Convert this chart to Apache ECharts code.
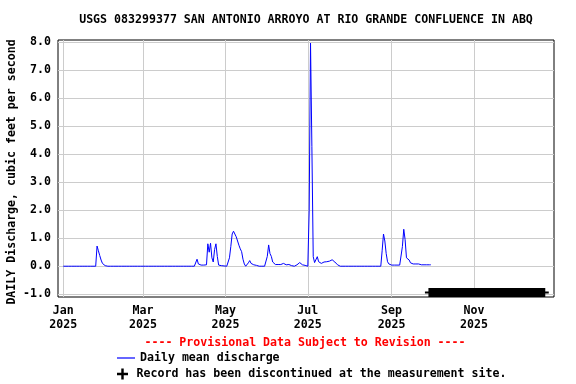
<!DOCTYPE html>
<html><head><meta charset="utf-8">
<script src="https://cdn.jsdelivr.net/npm/echarts@6/dist/echarts.min.js"></script>
<style>html,body{margin:0;padding:0;background:#fff}#c{width:576px;height:384px}</style>
</head><body><div id="c"></div>
<script>
const titleText = 'USGS 083299377 SAN ANTONIO ARROYO AT RIO GRANDE CONFLUENCE IN ABQ';
const yAxisTitle = 'DAILY Discharge, cubic feet per second';
const provisionalNote = '---- Provisional Data Subject to Revision ----';
const seriesNames = ['Daily mean discharge', 'Record has been discontinued at the measurement site.'];
const firstDay = '2025-01-01';
// daily mean discharge, one value per day starting at firstDay
const dailyMean = [
  // Jan
  0,0,0,0,0,0,0,0,0,0,0,0,0,0,0,0,0,0,0,0,0,0,0,0,0,0.72,0.55,0.38,0.22,0.1,0.04,
  // Feb
  0.02,0,0,0,0,0,0,0,0,0,0,0,0,0,0,0,0,0,0,0,0,0,0,0,0,0,0,0,
  // Mar
  0,0,0,0,0,0,0,0,0,0,0,0,0,0,0,0,0,0,0,0,0,0,0,0,0,0,0,0,0,0,0,
  // Apr
  0,0,0,0,0,0,0,0,0.02,0.25,0.08,0.05,0.04,0.04,0.04,0.04,0.05,0.8,0.5,0.82,0.3,0.15,0.6,0.8,0.35,0.04,0.02,0.02,0.01,0.01,
  // May
  0,0,0.05,0.3,0.7,1.15,1.25,1.27,1.05,0.9,0.75,0.62,0.52,0.25,0.08,0,0.03,0.12,0.2,0.1,0.06,0.05,0.04,0.03,0.02,0,0,0,0,0,0,
  // Jun
  0.35,0.76,0.45,0.35,0.15,0.08,0.06,0.06,0.06,0.05,0.06,0.06,0.1,0.12,0.05,0.08,0.06,0.05,0.02,0,0,0,0.05,0.1,0.13,0.06,0.05,0.04,0.03,0.02,
  // Jul
  0,2.0,7.97,4.27,0.34,0.13,0.2,0.34,0.16,0.09,0.1,0.12,0.15,0.18,0.16,0.16,0.18,0.2,0.23,0.2,0.15,0.1,0.05,0.02,0,0,0,0,0,0,0,
  // Aug
  0,0,0,0,0,0,0,0,0,0,0,0,0,0,0,0,0,0,0,0,0,0,0,0,0.55,1.15,0.9,0.45,0.16,0.08,0.05,
  // Sep
  0.04,0.04,0.04,0.04,0.04,0.04,0.04,0.04,0.7,1.32,0.95,0.3,0.28,0.22,0.12,0.08,0.08,0.08,0.08,0.08,0.08,0.05,0.05,0.05,0.05,0.05,0.05,0.05,0.05,0.05
];
const discontinuedDates = ['2025-09-29', '2025-12-23'];
const discontinuedLevel = -0.94;
const xTickDates = ['2025-01-01','2025-03-01','2025-05-01','2025-07-01','2025-09-01','2025-11-01'];
const yTicks = [-1,0,1,2,3,4,5,6,7,8];
const monthNames = ['Jan','Feb','Mar','Apr','May','Jun','Jul','Aug','Sep','Oct','Nov','Dec'];

const DAY = 86400000;
const t0 = Date.parse(firstDay);
const lineData = dailyMean.map((v, i) => [t0 + i * DAY, v]);
const discData = discontinuedDates.map(d => [Date.parse(d), discontinuedLevel]);
const xTicks = xTickDates.map(d => Date.parse(d));

const FONT = 'DejaVu Sans Mono';
const FS = 11.6;
const CSSFONT = 'bold ' + FS + 'px "' + FONT + '"';
const plusPath = 'path://M3.5,0h2v3.5h3.5v2h-3.5v3.5h-2v-3.5h-3.5v-2h3.5z';
const legendText = {fontFamily: FONT, fontSize: FS, fontWeight: 'bold', color: '#000'};

const chart = echarts.init(document.getElementById('c'), null, {renderer: 'canvas'});
chart.setOption({
  animation: false,
  backgroundColor: '#ffffff',
  grid: {left: 58, right: 22, top: 40, bottom: 87, show: true, borderColor: '#000', borderWidth: 1, backgroundColor: '#fff'},
  xAxis: {
    type: 'value',
    min: t0 - 3.9 * DAY, max: t0 + 363.2 * DAY,
    axisLine: {show: false},
    axisTick: {show: false, customValues: xTicks},
    splitLine: {show: true, lineStyle: {color: '#cccccc', width: 1}},
    axisLabel: {
      customValues: xTicks, margin: 7, lineHeight: 14,
      fontFamily: FONT, fontSize: FS, fontWeight: 'bold', color: '#000',
      formatter: v => { const d = new Date(v); return monthNames[d.getUTCMonth()] + '\n' + d.getUTCFullYear(); }
    }
  },
  yAxis: {
    type: 'value', min: -1.1, max: 8.08,
    axisLine: {show: false},
    axisTick: {show: false, customValues: yTicks},
    splitLine: {show: true, lineStyle: {color: '#cccccc', width: 1}},
    axisLabel: {
      customValues: yTicks, margin: 7,
      fontFamily: FONT, fontSize: FS, fontWeight: 'bold', color: '#000',
      formatter: v => v.toFixed(1)
    }
  },
  legend: [
    {
      left: 112, top: 347, itemWidth: 18, itemHeight: 1.2, selectedMode: false,
      textStyle: legendText,
      data: [{name: seriesNames[0], icon: 'rect', itemStyle: {color: '#0000ff', borderWidth: 0}}]
    },
    {
      left: 112, top: 363, itemWidth: 18, itemHeight: 11, selectedMode: false,
      textStyle: legendText,
      data: [{name: seriesNames[1], icon: plusPath, itemStyle: {color: '#000', borderWidth: 0}}]
    }
  ],
  graphic: [
    {type: 'text', x: 306, y: 20, style: {text: titleText, fill: '#000', align: 'center', verticalAlign: 'middle', font: CSSFONT}},
    {type: 'text', x: 305, y: 343, style: {text: provisionalNote, fill: '#ff0000', align: 'center', verticalAlign: 'middle', font: CSSFONT}},
    {type: 'text', x: 12, y: 172, rotation: Math.PI / 2,
     style: {text: yAxisTitle, fill: '#000', align: 'center', verticalAlign: 'middle', font: CSSFONT}}
  ],
  series: [
    {
      name: seriesNames[0], type: 'line', data: lineData, symbol: 'none', showSymbol: false,
      lineStyle: {color: '#0000ff', width: 1}, itemStyle: {color: '#0000ff'}, z: 3
    },
    {
      name: seriesNames[1], type: 'line', data: discData,
      symbol: plusPath, symbolSize: 9, showSymbol: true,
      lineStyle: {color: '#000', width: 9, cap: 'butt'}, itemStyle: {color: '#000'}, z: 2
    }
  ]
});
</script></body></html>
